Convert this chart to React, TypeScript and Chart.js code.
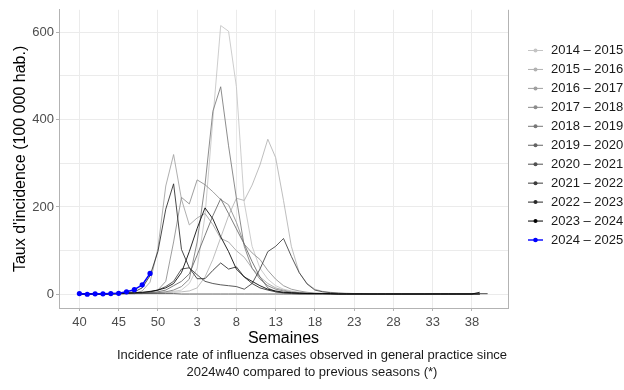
import React, { useEffect, useRef } from 'react';
import { Chart, registerables } from 'chart.js';

Chart.register(...registerables);

// Week of the season, in order (index 0 = week 40)
const weekLabels = [40, 41, 42, 43, 44, 45, 46, 47, 48, 49, 50, 51, 52, 1, 2, 3, 4, 5, 6, 7, 8, 9, 10, 11, 12, 13, 14, 15, 16, 17, 18, 19, 20, 21, 22, 23, 24, 25, 26, 27, 28, 29, 30, 31, 32, 33, 34, 35, 36, 37, 38, 39, 40];
const xTickIndex = [0, 5, 10, 15, 20, 25, 30, 35, 40, 45, 50];
const yGridTicks = [0, 100, 200, 300, 400, 500, 600];
const yLabelTicks = [0, 200, 400, 600];

const seasons = ['2014 – 2015', '2015 – 2016', '2016 – 2017', '2017 – 2018', '2018 – 2019', '2019 – 2020', '2020 – 2021', '2021 – 2022', '2022 – 2023', '2023 – 2024', '2024 – 2025'];
const seasonColors = ['#c4c4c4', '#b2b2b2', '#a0a0a0', '#8c8c8c', '#787878', '#646464', '#505050', '#3c3c3c', '#282828', '#000000', '#0000ff'];

const s2014 = [1, 1, 1, 1, 2, 2, 2, 2, 3, 3, 4, 5, 7, 10, 25, 60, 180, 400, 615, 602, 475, 210, 110, 60, 35, 20, 12, 8, 5, 4, 3, 3, 2, 2, 2, 2, 1, 1, 1, 1, 1, 1, 1, 1, 1, 1, 1, 1, 1, 1, 1, 1];
const s2015 = [1, 1, 1, 1, 1, 2, 2, 2, 2, 3, 3, 4, 5, 6, 8, 15, 40, 80, 130, 180, 220, 215, 250, 296, 355, 313, 215, 110, 50, 25, 12, 7, 5, 3, 3, 2, 2, 2, 1, 1, 1, 1, 1, 1, 1, 1, 1, 1, 1, 1, 1, 1, 1];
const s2016 = [1, 1, 1, 1, 2, 2, 2, 3, 8, 28, 105, 248, 320, 218, 159, 175, 185, 160, 128, 120, 100, 85, 60, 40, 25, 15, 10, 6, 4, 3, 2, 2, 2, 1, 1, 1, 1, 1, 1, 1, 1, 1, 1, 1, 1, 1, 1, 1, 1, 1, 1, 1];
const s2017 = [1, 1, 1, 1, 1, 2, 2, 2, 3, 5, 10, 30, 120, 222, 207, 262, 251, 235, 217, 205, 165, 115, 95, 80, 55, 35, 20, 12, 8, 5, 3, 2, 2, 2, 1, 1, 1, 1, 1, 1, 1, 1, 1, 1, 1, 1, 1, 1, 1, 1, 1, 1];
const s2018 = [1, 1, 1, 1, 1, 1, 2, 2, 2, 3, 4, 6, 10, 18, 35, 120, 250, 419, 475, 340, 220, 110, 60, 35, 20, 12, 8, 5, 4, 3, 2, 2, 2, 1, 1, 1, 1, 1, 1, 1, 1, 1, 1, 1, 1, 1, 1, 1, 1, 1, 1, 1];
const s2019 = [1, 1, 1, 1, 1, 2, 2, 2, 3, 4, 6, 10, 20, 30, 47, 90, 135, 180, 219, 185, 150, 115, 75, 40, 15, 6, 3, 2, 1, 1, 1, 1, 1, 1, 1, 1, 1, 1, 1, 1, 1, 1, 1, 1, 1, 1, 1, 1, 1, 1, 1, 1];
const s2020 = [2, 2, 2, 2, 2, 2, 2, 2, 2, 2, 2, 2, 2, 1, 1, 1, 1, 1, 1, 1, 1, 1, 1, 1, 1, 1, 1, 1, 1, 1, 1, 1, 1, 1, 1, 1, 1, 1, 1, 1, 1, 1, 1, 1, 1, 2, 2, 2, 2, 2, 2, 2, 2];
const s2021 = [1, 1, 1, 1, 1, 2, 2, 3, 4, 6, 10, 18, 30, 58, 61, 45, 30, 25, 22, 20, 18, 12, 25, 58, 98, 110, 128, 87, 50, 24, 10, 6, 4, 3, 2, 2, 2, 1, 1, 1, 1, 1, 1, 1, 1, 1, 1, 1, 1, 1, 1, 1];
const s2022 = [1, 1, 1, 1, 2, 3, 4, 6, 15, 43, 98, 195, 253, 103, 61, 36, 36, 55, 72, 58, 63, 40, 25, 15, 10, 6, 4, 3, 2, 2, 2, 2, 1, 1, 1, 1, 1, 1, 1, 1, 1, 1, 1, 1, 1, 1, 1, 1, 1, 1, 1, 1];
const s2023 = [1, 1, 1, 1, 2, 2, 3, 4, 5, 7, 10, 15, 25, 50, 98, 151, 198, 173, 132, 98, 58, 40, 30, 20, 12, 8, 5, 4, 3, 2, 2, 2, 2, 1, 1, 1, 1, 1, 1, 1, 1, 1, 1, 1, 1, 1, 1, 1, 1, 1, 1, 5];
const s2024 = [2, 0.5, 1.5, 1.5, 2, 2.5, 6, 11, 22, 48];

const seriesValues = [s2014, s2015, s2016, s2017, s2018, s2019, s2020, s2021, s2022, s2023, s2024];

const FONT = "'Liberation Sans', Arial, Helvetica, sans-serif";

const extrasPlugin = {
  id: 'extras',
  afterDraw(chart: any) {
    const ctx = chart.ctx;
    const area = chart.chartArea;
    ctx.save();
    // right panel line
    ctx.strokeStyle = '#b3b3b3';
    ctx.lineWidth = 1;
    ctx.beginPath();
    ctx.moveTo(area.right + 0.5, area.top);
    ctx.lineTo(area.right + 0.5, area.bottom + 1);
    ctx.stroke();
    // legend
    const x0 = 528;
    const x1 = 543;
    const xt = 551;
    const y0 = 50.5;
    const dy = 18.95;
    ctx.font = `13px ${FONT}`;
    ctx.textBaseline = 'middle';
    ctx.textAlign = 'left';
    seasons.forEach((name, i) => {
      const y = y0 + i * dy;
      const col = seasonColors[i];
      ctx.strokeStyle = col;
      ctx.lineWidth = i === seasons.length - 1 ? 1.4 : 1;
      ctx.beginPath();
      ctx.moveTo(x0, y);
      ctx.lineTo(x1, y);
      ctx.stroke();
      ctx.fillStyle = col;
      ctx.beginPath();
      ctx.arc((x0 + x1) / 2, y, i === seasons.length - 1 ? 2.3 : 2, 0, Math.PI * 2);
      ctx.fill();
      ctx.fillStyle = '#1a1a1a';
      ctx.fillText(name, xt, y);
    });
    ctx.restore();
  },
};

export default function App() {
  const ref = useRef<HTMLCanvasElement | null>(null);
  useEffect(() => {
    if (!ref.current) return;
    const datasets = seriesValues.map((vals, si) => {
      const isCurrent = si === seriesValues.length - 1;
      return {
        label: seasons[si],
        data: vals.map((v, i) => ({ x: i, y: v })),
        borderColor: seasonColors[si],
        backgroundColor: seasonColors[si],
        borderWidth: isCurrent ? 1.5 : 0.85,
        pointRadius: isCurrent ? 2.6 : 0,
        pointBorderWidth: 0,
        pointBackgroundColor: seasonColors[si],
        tension: 0,
        fill: false,
        order: seriesValues.length - si,
      };
    });
    const chart = new Chart(ref.current, {
      type: 'line',
      data: { datasets },
      plugins: [extrasPlugin],
      options: {
        animation: false,
        responsive: false,
        maintainAspectRatio: false,
        layout: { padding: { left: 0, top: 6, right: 116, bottom: 42 } },
        plugins: { legend: { display: false }, tooltip: { enabled: false } },
        scales: {
          x: {
            type: 'linear',
            min: -2.6,
            max: 54.6,
            afterBuildTicks: (s: any) => {
              s.ticks = xTickIndex.map((v) => ({ value: v }));
            },
            afterFit: (s: any) => {
              s.height = 40;
            },
            ticks: {
              autoSkip: false,
              maxRotation: 0,
              padding: 4,
              color: '#4d4d4d',
              font: { family: FONT, size: 13 },
              callback: (v: any) => String(weekLabels[Math.round(Number(v))]),
            },
            grid: { color: '#ebebeb', lineWidth: 1, tickColor: '#b3b3b3', tickLength: 3 },
            border: { display: true, color: '#b3b3b3', width: 1 },
            title: {
              display: true,
              text: 'Semaines',
              color: '#000000',
              font: { family: FONT, size: 16 },
              padding: { top: 0, bottom: 0 },
            },
          },
          y: {
            type: 'linear',
            min: -31,
            max: 651,
            afterBuildTicks: (s: any) => {
              s.ticks = yGridTicks.map((v) => ({ value: v }));
            },
            afterFit: (s: any) => {
              s.width = 59;
            },
            ticks: {
              padding: 2,
              color: '#4d4d4d',
              font: { family: FONT, size: 13 },
              callback: (v: any) => (yLabelTicks.includes(Number(v)) ? String(v) : ''),
            },
            grid: {
              color: '#ebebeb',
              lineWidth: 1,
              tickLength: 3,
              tickColor: (c: any) => (c.tick && yLabelTicks.includes(c.tick.value) ? '#b3b3b3' : 'rgba(0,0,0,0)'),
            },
            border: { display: true, color: '#b3b3b3', width: 1 },
            title: {
              display: true,
              text: "Taux d'incidence (100 000 hab.)",
              color: '#000000',
              font: { family: FONT, size: 16 },
              padding: { top: 11, bottom: 0 },
            },
          },
        },
      },
    });
    return () => chart.destroy();
  }, []);

  return (
    <div style={{ position: 'absolute', left: 0, top: 0, width: 624, height: 390, background: '#ffffff' }}>
      <canvas ref={ref} width={624} height={390} style={{ display: 'block', width: 624, height: 390 }} />
      <div
        style={{
          position: 'absolute',
          left: 0,
          top: 346,
          width: 624,
          textAlign: 'center',
          fontFamily: FONT,
          fontSize: 13,
          lineHeight: '17px',
          color: '#1a1a1a',
        }}
      >
        Incidence rate of influenza cases observed in general practice since
        <br />
        2024w40 compared to previous seasons (*)
      </div>
    </div>
  );
}
